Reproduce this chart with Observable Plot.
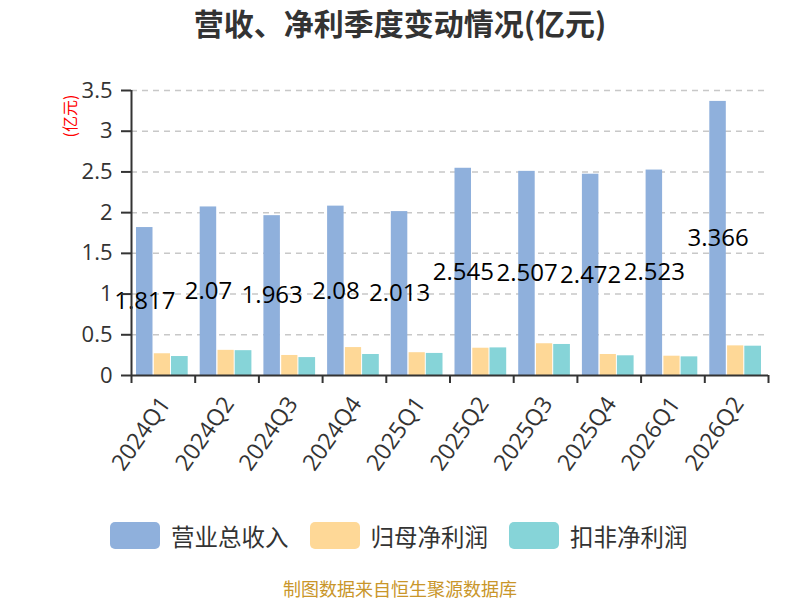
<!DOCTYPE html>
<html><head><meta charset="utf-8">
<script src="https://cdn.jsdelivr.net/npm/d3@7"></script>
<script src="https://cdn.jsdelivr.net/npm/@observablehq/plot@0.6"></script>
<style>
body{margin:0;background:#fff;}
#wrap{position:relative;width:800px;height:600px;overflow:hidden;font-family:"Open Sans","Noto Sans CJK SC",sans-serif;}
#title{position:absolute;left:0;top:0px;width:800px;height:44px;line-height:44px;text-align:center;font-size:30px;font-weight:bold;color:#333;font-family:"Noto Sans CJK SC",sans-serif;}
#unit{position:absolute;left:68.5px;top:115.5px;transform:translate(-50%,-50%) rotate(-90deg);color:#f00;font-size:16px;line-height:20px;white-space:nowrap;font-family:"Noto Sans CJK SC",sans-serif;}
#chart{position:absolute;left:0;top:0;}
#legend{position:absolute;top:522px;left:110px;display:flex;align-items:center;height:27px;font-family:"Noto Sans CJK SC",sans-serif;}
.item{display:flex;align-items:center;margin-right:21px;}
.sw{width:50px;height:27px;border-radius:5px;margin-right:11px;}
.lt{font-size:23.5px;line-height:30px;color:#333;}
#footer{position:absolute;left:0;top:577px;width:800px;text-align:center;font-size:18px;line-height:22px;color:#c9962a;font-family:"Noto Sans CJK SC",sans-serif;}
</style>
</head>
<body>
<div id="wrap">
  <div id="chart"></div>
  <div id="title">营收、净利季度变动情况(亿元)</div>
  <div id="unit">(亿元)</div>
  <div id="legend"></div>
  <div id="footer">制图数据来自恒生聚源数据库</div>
</div>
<script>
const quarters = ["2024Q1","2024Q2","2024Q3","2024Q4","2025Q1","2025Q2","2025Q3","2025Q4","2026Q1","2026Q2"];
const revenue = [1.817, 2.07, 1.963, 2.08, 2.013, 2.545, 2.507, 2.472, 2.523, 3.366];
const parentProfit = [0.267, 0.309, 0.246, 0.343, 0.280, 0.335, 0.390, 0.258, 0.237, 0.364];
const deductedProfit = [0.233, 0.305, 0.220, 0.258, 0.271, 0.339, 0.381, 0.242, 0.229, 0.360];
const seriesNames = ["营业总收入","归母净利润","扣非净利润"];
const seriesColors = ["#8fb0dc","#fed897","#86d4d8"];
const yTicks = [0, 0.5, 1, 1.5, 2, 2.5, 3, 3.5];

const rows = quarters.map((q, i) => ({q, i, rev: revenue[i], par: parentProfit[i], ded: deductedProfit[i]}));

const plot = Plot.plot({
  width: 800,
  height: 510,
  marginLeft: 131,
  marginRight: 32,
  marginTop: 90,
  marginBottom: 135,
  style: {fontFamily: '"Open Sans","Noto Sans CJK SC",sans-serif', color: "#333", background: "transparent", overflow: "visible"},
  x: {type: "linear", domain: [0, quarters.length], axis: null},
  y: {domain: [0, 3.5], axis: null},
  marks: [
    Plot.gridY({ticks: yTicks.slice(1), stroke: "#c8c8c8", strokeOpacity: 1, strokeWidth: 1.5, strokeDasharray: "6,5"}),
    Plot.rectY(rows, {x1: d => d.i, x2: d => d.i + 1, y: "rev", fill: seriesColors[0], insetLeft: 5, insetRight: 42.2}),
    Plot.rectY(rows, {x1: d => d.i, x2: d => d.i + 1, y: "par", fill: seriesColors[1], insetLeft: 22.8, insetRight: 24.7}),
    Plot.rectY(rows, {x1: d => d.i, x2: d => d.i + 1, y: "ded", fill: seriesColors[2], insetLeft: 40, insetRight: 7}),
    Plot.text(rows, {x: d => d.i, dx: 13.3, y: d => d.rev / 2, text: d => String(d.rev), fill: "#000", fontSize: 24, textAnchor: "middle"}),
    // y axis: ticks + labels
    Plot.ruleY(yTicks, {y: d => d, x1: 0, x2: 0, stroke: "#333", strokeWidth: 2, insetLeft: -10, insetRight: 0}),
    Plot.text(yTicks, {x: 0, y: d => d, text: d => String(d), dx: -19, textAnchor: "end", fontSize: 22, fill: "#333"}),
    // x axis: boundary ticks + rotated labels
    Plot.ruleX(d3.range(quarters.length + 1), {x: d => d, y1: 0, y2: 0, stroke: "#333", strokeWidth: 2, insetBottom: -8, insetTop: 0}),
    Plot.text(quarters, {x: (d, i) => i + 0.5, y: 0, text: d => d, rotate: -55, textAnchor: "end", dx: 2, dy: 24, fontSize: 23, fill: "#333"}),
    Plot.ruleX([0], {stroke: "#333", strokeWidth: 2}),
    Plot.ruleY([0], {stroke: "#333", strokeWidth: 2})
  ]
});
document.getElementById("chart").appendChild(plot);

const legend = document.getElementById("legend");
seriesNames.forEach((n, k) => {
  const it = document.createElement("div");
  it.className = "item";
  it.innerHTML = `<div class="sw" style="background:${seriesColors[k]}"></div><div class="lt">${n}</div>`;
  legend.appendChild(it);
});
</script>
</body></html>
